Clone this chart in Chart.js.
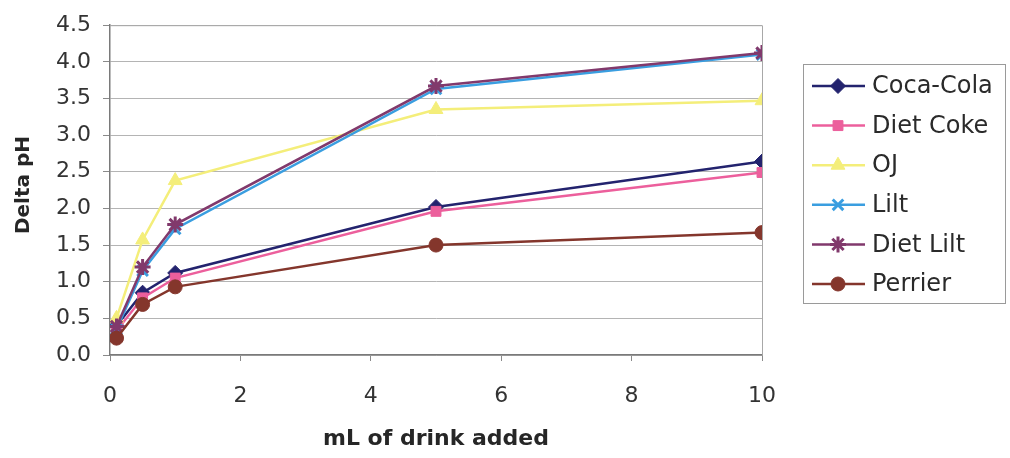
<!DOCTYPE html>
<html>
<head>
<meta charset="utf-8">
<script src="https://cdn.jsdelivr.net/npm/chart.js@4/dist/chart.umd.min.js"></script>
<style>
  html, body { margin: 0; padding: 0; background: #ffffff; }
  #wrap { width: 1010px; height: 458px; position: relative; }
</style>
</head>
<body>
<div id="wrap"><canvas id="c" width="1010" height="458"></canvas></div>
<script>
// ---- data ----
const xValues = [0.1, 0.5, 1, 5, 10];
const seriesNames = ["Coca-Cola", "Diet Coke", "OJ", "Lilt", "Diet Lilt", "Perrier"];
const cocaCola = [0.40, 0.85, 1.12, 2.02, 2.64];
const dietCoke = [0.33, 0.78, 1.05, 1.96, 2.49];
const oj       = [0.50, 1.57, 2.38, 3.35, 3.47];
const lilt     = [0.35, 1.15, 1.72, 3.63, 4.10];
const dietLilt = [0.39, 1.20, 1.78, 3.67, 4.12];
const perrier  = [0.23, 0.69, 0.93, 1.50, 1.67];
const yTicks = ["0.0","0.5","1.0","1.5","2.0","2.5","3.0","3.5","4.0","4.5"];
const xTicks = ["0","2","4","6","8","10"];
const xTitle = "mL of drink added";
const yTitle = "Delta pH";

// ---- styles ----
const styles = [
  { color: "#23236e", point: "rectRot",  radius: 7.5 },
  { color: "#ec5f9c", point: "rect",     radius: 7 },
  { color: "#f4ee7a", point: "triangle", radius: 8 },
  { color: "#3a9ee0", point: "crossRot", radius: 7.5 },
  { color: "#81396c", point: "star",     radius: 8 },
  { color: "#84362c", point: "circle",   radius: 7 }
];
const allSeries = [cocaCola, dietCoke, oj, lilt, dietLilt, perrier];
const FONT = "'DejaVu Sans', 'Liberation Sans', Arial, sans-serif";

const datasets = allSeries.map((vals, i) => ({
  label: seriesNames[i],
  data: vals.map((v, k) => ({ x: xValues[k], y: v })),
  borderColor: styles[i].color,
  backgroundColor: styles[i].color,
  pointBackgroundColor: styles[i].color,
  pointBorderColor: styles[i].color,
  pointStyle: styles[i].point,
  pointRadius: styles[i].radius,
  pointBorderWidth: (styles[i].point === "crossRot" || styles[i].point === "star") ? 3 : 1,
  borderWidth: 2.5,
  tension: 0,
  fill: false,
  order: allSeries.length - i
}));

const decorPlugin = {
  id: "decor",
  afterDraw(chart) {
    const ctx = chart.ctx;
    const a = chart.chartArea;
    ctx.save();
    // plot border (top & right)
    ctx.strokeStyle = "#a8a8a8";
    ctx.lineWidth = 1;
    ctx.beginPath();
    ctx.moveTo(a.left, a.top + 0.5);
    ctx.lineTo(a.right + 0.5, a.top + 0.5);
    ctx.lineTo(a.right + 0.5, a.bottom);
    ctx.stroke();

    // axis titles
    ctx.fillStyle = "#262626";
    ctx.font = "bold 22px " + FONT;
    ctx.textAlign = "center";
    ctx.textBaseline = "middle";
    ctx.fillText(xTitle, (a.left + a.right) / 2, 439);
    ctx.save();
    ctx.translate(24, 185);
    ctx.rotate(-Math.PI / 2);
    ctx.font = "bold 20px " + FONT;
    ctx.fillText(yTitle, 0, 0);
    ctx.restore();

    // legend
    const lx = 803, ly = 64, lw = 202, lh = 239;
    ctx.strokeStyle = "#9a9a9a";
    ctx.lineWidth = 1;
    ctx.strokeRect(lx + 0.5, ly + 0.5, lw, lh);
    const rowY0 = 86, rowStep = 39.6;
    chart.data.datasets.forEach((ds, i) => {
      const y = rowY0 + i * rowStep;
      ctx.strokeStyle = ds.borderColor;
      ctx.lineWidth = 2.5;
      ctx.beginPath();
      ctx.moveTo(812, y);
      ctx.lineTo(865, y);
      ctx.stroke();
      ctx.fillStyle = ds.pointBackgroundColor;
      ctx.strokeStyle = ds.pointBorderColor;
      ctx.lineWidth = ds.pointBorderWidth;
      Chart.helpers.drawPoint(ctx, {
        pointStyle: ds.pointStyle,
        radius: ds.pointRadius,
        rotation: 0,
        borderWidth: ds.pointBorderWidth
      }, 838, y);
      ctx.fillStyle = "#2a2a2a";
      ctx.font = "24px " + FONT;
      ctx.textAlign = "left";
      ctx.textBaseline = "middle";
      ctx.fillText(ds.label, 872, y + 1);
    });
    ctx.restore();
  }
};

new Chart(document.getElementById("c"), {
  type: "line",
  data: { datasets },
  options: {
    responsive: false,
    animation: false,
    devicePixelRatio: 1,
    layout: { padding: { top: 22, right: 248, bottom: 0, left: 0 } },
    plugins: { legend: { display: false }, tooltip: { enabled: false }, title: { display: false } },
    scales: {
      x: {
        type: "linear",
        min: 0, max: 10,
        afterFit(s) { s.height = 103; },
        afterBuildTicks(s) { s.ticks = xTicks.map(t => ({ value: Number(t) })); },
        ticks: {
          callback: (v) => xTicks.find(t => Number(t) === v) ?? "",
          color: "#333333",
          font: { family: FONT, size: 22 },
          padding: 22,
          maxRotation: 0
        },
        grid: { display: true, drawOnChartArea: false, drawTicks: true, tickLength: 6, color: "#8a8a8a" },
        border: { display: true, color: "#7a7a7a", width: 1.5 }
      },
      y: {
        type: "linear",
        min: 0, max: 4.5,
        afterFit(s) { s.width = 110; },
        afterBuildTicks(s) { s.ticks = yTicks.map(t => ({ value: Number(t) })); },
        ticks: {
          callback: (v) => yTicks.find(t => Number(t) === v) ?? "",
          color: "#333333",
          font: { family: FONT, size: 22 },
          padding: 12
        },
        grid: { color: "#b4b4b4", tickColor: "#8a8a8a", tickLength: 7, lineWidth: 1 },
        border: { display: true, color: "#7a7a7a", width: 1.5 }
      }
    }
  },
  plugins: [decorPlugin]
});
</script>
</body>
</html>
